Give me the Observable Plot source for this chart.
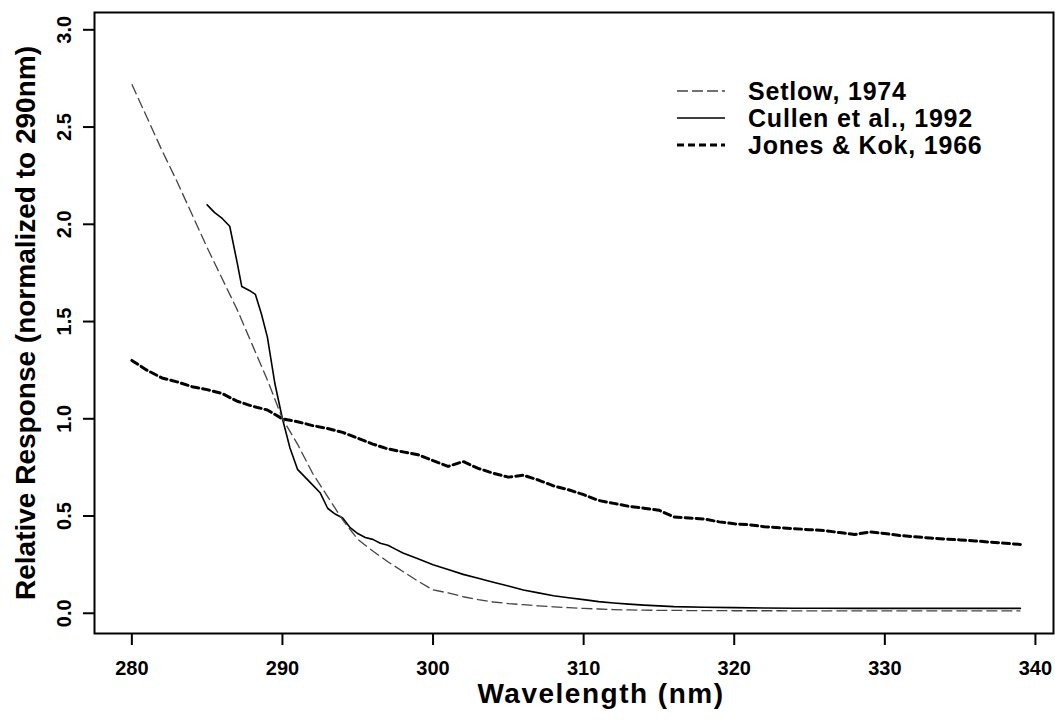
<!DOCTYPE html>
<html><head><meta charset="utf-8">
<script src="https://cdn.jsdelivr.net/npm/d3@7"></script>
<script src="https://cdn.jsdelivr.net/npm/@observablehq/plot@0.6"></script>
<style>
html,body{margin:0;padding:0;background:#fff;}
#chart{width:1055px;height:721px;}
</style></head><body><div id="chart"></div>
<script>
const FONT = "'Liberation Sans', Arial, Helvetica, sans-serif";

const seriesNames = ["Setlow, 1974", "Cullen et al., 1992", "Jones & Kok, 1966"];
const xTicks = [280, 290, 300, 310, 320, 330, 340];
const yTicks = [0, 0.5, 1.0, 1.5, 2.0, 2.5, 3.0];
const xLabel = "Wavelength (nm)";
const yLabel = "Relative Response (normalized to 290nm)";

const setlowWl = [280,281,282,283,284,285,286,287,288,289,290,291,292,293,294,295,296,297,298,299,300,301,302,303,304,305,306,307,308,309,310,311,312,313,314,315,316,317,318,319,320,321,322,323,324,325,326,327,328,329,330,331,332,333,334,335,336,337,338,339];
const setlowVal = [2.72,2.55,2.38,2.22,2.05,1.88,1.72,1.56,1.38,1.20,1.00,0.87,0.72,0.60,0.48,0.38,0.32,0.265,0.215,0.165,0.12,0.105,0.085,0.07,0.058,0.05,0.044,0.038,0.033,0.029,0.025,0.022,0.019,0.017,0.016,0.015,0.015,0.014,0.014,0.014,0.013,0.013,0.013,0.013,0.012,0.012,0.012,0.012,0.012,0.012,0.012,0.012,0.012,0.012,0.012,0.012,0.012,0.012,0.012,0.012];

const cullenWl = [285,285.5,286,286.5,287,287.3,287.8,288.2,288.6,289,289.5,290,290.5,291,291.5,292,292.5,293,293.5,294,294.5,295,295.5,296,296.5,297,297.5,298,299,300,301,302,303,304,305,306,307,308,309,310,311,312,313,314,315,316,318,320,322,324,326,328,330,332,334,336,339];
const cullenVal = [2.10,2.06,2.03,1.99,1.80,1.68,1.66,1.64,1.54,1.42,1.18,1.00,0.85,0.74,0.70,0.66,0.62,0.54,0.51,0.49,0.44,0.41,0.39,0.38,0.36,0.35,0.33,0.31,0.28,0.25,0.225,0.20,0.18,0.16,0.14,0.12,0.105,0.09,0.08,0.07,0.06,0.053,0.047,0.042,0.038,0.034,0.031,0.029,0.027,0.026,0.026,0.025,0.025,0.025,0.025,0.025,0.025];

const jonesWl = setlowWl;
const jonesVal = [1.30,1.25,1.21,1.19,1.165,1.15,1.13,1.09,1.065,1.045,1.00,0.985,0.965,0.95,0.93,0.90,0.87,0.845,0.83,0.815,0.785,0.755,0.78,0.745,0.72,0.70,0.71,0.685,0.655,0.635,0.61,0.58,0.565,0.55,0.54,0.53,0.495,0.49,0.485,0.47,0.46,0.455,0.445,0.44,0.435,0.43,0.425,0.415,0.405,0.418,0.41,0.40,0.393,0.387,0.382,0.377,0.372,0.366,0.36,0.354];

const toRows = (xs, ys) => xs.map((x, i) => ({wl: x, v: ys[i]}));
const setlow = toRows(setlowWl, setlowVal);
const cullen = toRows(cullenWl, cullenVal);
const jones = toRows(jonesWl, jonesVal);

const styles = [
  {stroke: "#444", strokeWidth: 1.3, strokeDasharray: "11,4"},
  {stroke: "#000", strokeWidth: 1.6, strokeDasharray: null},
  {stroke: "#000", strokeWidth: 3, strokeDasharray: "7,4"}
];

const plot = Plot.plot({
  width: 1055, height: 721,
  marginLeft: 94, marginRight: 2, marginTop: 12, marginBottom: 88,
  style: {fontFamily: FONT, fontWeight: "bold", fontSize: "20px", background: "#fff", color: "#000", overflow: "visible"},
  x: {domain: [277.52, 341.2]},
  y: {domain: [-0.104, 3.089]},
  marks: [
    Plot.frame({stroke: "#000", strokeWidth: 2}),
    Plot.axisX({ticks: xTicks, tickFormat: d => String(d), tickSize: 12, tickPadding: 15, strokeWidth: 2, fontSize: 20, label: null}),
    Plot.axisY({ticks: yTicks, tickFormat: d => d.toFixed(1), tickSize: 11, tickPadding: 13, tickRotate: -90, strokeWidth: 2, fontSize: 20, label: null}),
    Plot.line(jones, {x: "wl", y: "v", ...styles[2]}),
    Plot.line(cullen, {x: "wl", y: "v", ...styles[1]}),
    Plot.line(setlow, {x: "wl", y: "v", ...styles[0], strokeLinecap: "butt"}),
    Plot.text([xLabel], {frameAnchor: "bottom", dx: 27, dy: 61, lineAnchor: "middle", textAnchor: "middle", fontSize: 28, text: d => d}),
    Plot.text([yLabel], {frameAnchor: "left", dx: -68, rotate: -90, textAnchor: "middle", lineAnchor: "middle", fontSize: 28, text: d => d})
  ]
});

const svg = d3.select(plot);
svg.selectAll("text").filter(function() { return this.textContent === xLabel; }).style("letter-spacing", "1.5px");

// legend
const lg = svg.append("g").attr("font-family", FONT).attr("font-weight", "bold").attr("font-size", 25)
  .attr("text-anchor", "start").style("letter-spacing", "0.8px");
seriesNames.forEach((name, i) => {
  const yy = 91 + i * 27;
  const st = styles[i];
  lg.append("line").attr("x1", 677).attr("x2", 725).attr("y1", yy).attr("y2", yy)
    .attr("stroke", st.stroke).attr("stroke-width", st.strokeWidth)
    .attr("stroke-dasharray", st.strokeDasharray);
  lg.append("text").attr("x", 748).attr("y", yy).attr("dy", "0.35em").text(name);
});

document.getElementById("chart").appendChild(plot);
</script></body></html>
